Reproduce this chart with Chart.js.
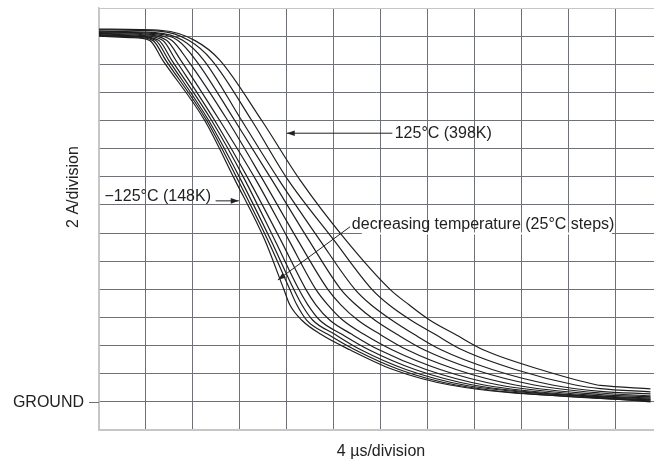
<!DOCTYPE html>
<html lang="en">
<head>
    <meta charset="UTF-8">
    <title>Fall time vs temperature</title>
    <script src="https://cdn.jsdelivr.net/npm/chart.js"></script>
    <style>
        body {
            margin: 0;
            background: #ffffff;
        }
        .wrap {
            position: relative;
            width: 654px;
            height: 463px;
        }
    </style>
</head>
<body>
    <div class="wrap">
        <canvas id="fallChart"></canvas>
    </div>

    <script>
        // one curve per temperature, -125C .. 125C in 25C steps
        const tempLabels = ['-125°C', '-100°C', '-75°C', '-50°C', '-25°C', '0°C', '25°C', '50°C', '75°C', '100°C', '125°C'];

        // current levels (A above ground) where the crossing times below were read
        const levelA = [25.7, 24.3, 20.0, 15.8, 11.5, 8.0, 6.9, 5.8, 4.8, 3.7, 2.3, 1.2];

        // time (us) at which each curve crosses the levels above
        const crossM125 = [4.31, 5.42, 9.01, 11.57, 14.13, 15.75, 16.26, 17.29, 18.91, 21.38, 25.05, 29.92];
        const crossM100 = [4.57, 5.68, 9.18, 11.82, 14.38, 16.26, 16.86, 17.71, 19.50, 21.81, 25.57, 30.43];
        const crossM75 = [4.82, 5.93, 9.35, 12.08, 14.64, 16.60, 17.29, 18.22, 20.10, 22.32, 26.16, 31.11];
        const crossM50 = [5.08, 6.19, 9.60, 12.42, 14.98, 17.03, 17.80, 18.82, 20.70, 23.00, 26.93, 31.88];
        const crossM25 = [5.42, 6.53, 9.86, 12.76, 15.49, 17.63, 18.48, 19.68, 21.55, 23.86, 27.87, 32.82];
        const cross0 = [5.76, 6.96, 10.29, 13.36, 16.18, 18.48, 19.50, 20.79, 22.58, 24.97, 29.07, 34.10];
        const crossP25 = [6.19, 7.55, 10.97, 13.96, 16.94, 19.50, 20.61, 22.07, 23.94, 26.25, 30.43, 35.47];
        const crossP50 = [6.70, 8.24, 11.57, 14.72, 17.88, 20.61, 21.89, 23.52, 25.39, 27.70, 31.97, 37.09];
        const crossP75 = [7.13, 8.92, 12.16, 15.32, 18.82, 21.81, 23.18, 24.97, 26.85, 29.15, 33.50, 38.63];
        const crossP100 = [7.64, 9.60, 13.02, 16.09, 20.02, 23.26, 24.71, 26.59, 28.64, 30.94, 35.47, 40.59];
        const crossP125 = [8.15, 10.29, 13.87, 17.11, 21.04, 24.80, 26.42, 28.21, 30.35, 32.74, 37.60, 42.47];
        const crossTimes = [crossM125, crossM100, crossM75, crossM50, crossM25, cross0,
                            crossP25, crossP50, crossP75, crossP100, crossP125];

        // flat top: level at t=0 and at the knee
        const startA = [26.0, 26.05, 26.1, 26.1, 26.15, 26.2, 26.25, 26.3, 26.35, 26.45, 26.5];
        const kneeUs = [2.6, 2.8, 3.0, 3.2, 3.5, 3.8, 4.1, 4.5, 4.8, 5.1, 5.4];
        const kneeA = [25.9, 25.95, 26.0, 26.0, 26.05, 26.1, 26.15, 26.2, 26.25, 26.35, 26.4];

        // tail near ground
        const tailUs = 42.72;
        const tailA = [0.24, 0.26, 0.29, 0.33, 0.37, 0.43, 0.52, 0.63, 0.75, 0.94, 1.17];
        const endUs = 47.0;
        const endA = [0.07, 0.14, 0.0, 0.14, 0.21, 0.28, 0.36, 0.43, 0.57, 0.71, 0.92];

        // grid: 4 us/division, 2 A/division
        const xTicks = [0, 4, 8, 12, 16, 20, 24, 28, 32, 36, 40, 44];
        const yTicks = [-2, 0, 2, 4, 6, 8, 10, 12, 14, 16, 18, 20, 22, 24, 26, 28];

        const datasets = tempLabels.map((label, i) => {
            const pts = [{ x: 0, y: startA[i] }, { x: kneeUs[i], y: kneeA[i] }];
            levelA.forEach((lvl, j) => pts.push({ x: crossTimes[i][j], y: lvl }));
            pts.push({ x: tailUs, y: tailA[i] });
            pts.push({ x: endUs, y: endA[i] });
            pts.sort((a, b) => a.x - b.x);
            return {
                label: label,
                data: pts,
                borderColor: '#1e1e1e',
                borderWidth: 1.2,
                pointRadius: 0,
                fill: false,
                cubicInterpolationMode: 'monotone'
            };
        });

        const FONT = '16px "Liberation Sans", Arial, sans-serif';
        const INK = '#222222';
        const GRID = '#6e7276';
        const EDGE = '#c6c6c6';

        function arrow(ctx, x1, y1, x2, y2) {
            ctx.beginPath();
            ctx.moveTo(x1, y1);
            ctx.lineTo(x2, y2);
            ctx.stroke();
            const a = Math.atan2(y2 - y1, x2 - x1);
            const len = 8, half = 2.8;
            ctx.beginPath();
            ctx.moveTo(x2, y2);
            ctx.lineTo(x2 - len * Math.cos(a) + half * Math.sin(a), y2 - len * Math.sin(a) - half * Math.cos(a));
            ctx.lineTo(x2 - len * Math.cos(a) - half * Math.sin(a), y2 - len * Math.sin(a) + half * Math.cos(a));
            ctx.closePath();
            ctx.fill();
        }

        const figureText = {
            id: 'figureText',
            beforeDatasetsDraw(chart) {
                // label box hides this piece of the 12 A grid line
                const { ctx, scales: { x, y } } = chart;
                ctx.save();
                ctx.strokeStyle = '#ffffff';
                ctx.lineWidth = 2;
                ctx.beginPath();
                ctx.moveTo(x.getPixelForValue(22.4), Math.round(y.getPixelForValue(12)) + 0.5);
                ctx.lineTo(x.getPixelForValue(43.7), Math.round(y.getPixelForValue(12)) + 0.5);
                ctx.stroke();
                ctx.restore();
            },
            afterDatasetsDraw(chart) {
                const { ctx, chartArea, scales: { x, y } } = chart;
                ctx.save();
                ctx.font = FONT;
                ctx.fillStyle = INK;
                ctx.strokeStyle = INK;
                ctx.lineWidth = 1;
                ctx.textBaseline = 'middle';

                // 125C label + arrow
                ctx.textAlign = 'left';
                ctx.fillText('125°C (398K)', x.getPixelForValue(25.2), y.getPixelForValue(19.1));
                arrow(ctx, x.getPixelForValue(25.0), y.getPixelForValue(19.1),
                      x.getPixelForValue(16.0), y.getPixelForValue(19.1));

                // -125C label + arrow
                ctx.fillText('\u2212125°C (148K)', x.getPixelForValue(0.47), y.getPixelForValue(14.58));
                arrow(ctx, x.getPixelForValue(9.94), y.getPixelForValue(14.29),
                      x.getPixelForValue(11.91), y.getPixelForValue(14.29));

                // decreasing temperature
                ctx.fillText('decreasing temperature (25°C steps)', x.getPixelForValue(21.55), y.getPixelForValue(12.58));
                arrow(ctx, x.getPixelForValue(21.4), y.getPixelForValue(12.45),
                      x.getPixelForValue(15.24), y.getPixelForValue(8.67));

                // GROUND marker
                const gy = Math.round(y.getPixelForValue(0)) + 0.5;
                ctx.textAlign = 'right';
                ctx.fillText('GROUND', chartArea.left - 15, gy);
                ctx.strokeStyle = GRID;
                ctx.beginPath();
                ctx.moveTo(chartArea.left - 10, gy);
                ctx.lineTo(chartArea.left, gy);
                ctx.stroke();

                // axis titles
                ctx.textAlign = 'center';
                ctx.fillText('4 \u00b5s/division', 381, 452);
                ctx.translate(74, 187);
                ctx.rotate(-Math.PI / 2);
                ctx.fillText('2 A/division', 0, 0);
                ctx.restore();
            }
        };

        new Chart(document.getElementById('fallChart').getContext('2d'), {
            type: 'line',
            data: { datasets: datasets },
            options: {
                responsive: true,
                maintainAspectRatio: false,
                animation: false,
                devicePixelRatio: 1,
                layout: { padding: { left: 99, top: 8, right: 0, bottom: 33 } },
                plugins: {
                    legend: { display: false },
                    tooltip: { enabled: false }
                },
                scales: {
                    x: {
                        type: 'linear',
                        min: 0,
                        max: 47.3,
                        afterBuildTicks: axis => { axis.ticks = xTicks.map(v => ({ value: v })); },
                        ticks: { display: false },
                        grid: {
                            drawTicks: false,
                            lineWidth: 1,
                            color: c => (c.tick && c.tick.value === 0) ? EDGE : GRID
                        },
                        border: { display: true, color: EDGE, width: 1.5 }
                    },
                    y: {
                        type: 'linear',
                        min: -2,
                        max: 28,
                        afterBuildTicks: axis => { axis.ticks = yTicks.map(v => ({ value: v })); },
                        ticks: { display: false },
                        grid: {
                            drawTicks: false,
                            lineWidth: 1,
                            color: c => (c.tick && (c.tick.value === -2 || c.tick.value === 28)) ? EDGE : GRID
                        },
                        border: { display: true, color: EDGE, width: 1.5 }
                    }
                }
            },
            plugins: [figureText]
        });
    </script>
</body>
</html>
